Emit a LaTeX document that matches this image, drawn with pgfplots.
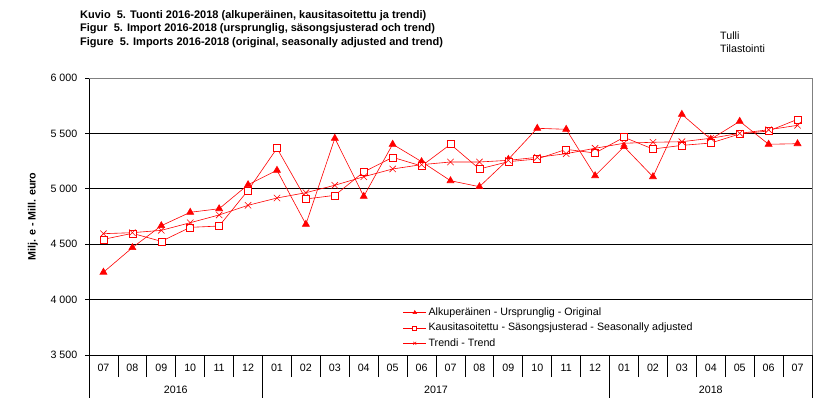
\documentclass[border=0pt]{standalone}
\usepackage{pgfplots}
\pgfplotsset{compat=1.18}
\usepackage{fontspec}
\setmainfont{Liberation Sans}

\begin{document}
\fontsize{10.67}{12.5}\selectfont
\begin{tikzpicture}[x=1pt,y=1pt]
\path[use as bounding box] (0,0) rectangle (831,416);

% titles
\node[anchor=north west, align=left, inner sep=0,
      font=\bfseries\fontsize{11}{13.5}\selectfont] at (80,406)
  {Kuvio\ \ 5. Tuonti 2016-2018 (alkuperäinen, kausitasoitettu ja trendi)\\
   Figur\ \ 5. Import 2016-2018 (ursprunglig, säsongsjusterad och trend)\\
   Figure\ \ 5. Imports 2016-2018 (original, seasonally adjusted and trend)};
\node[anchor=north west, align=left, inner sep=0,
      font=\fontsize{10.67}{13}\selectfont] at (720,384)
  {Tulli\\Tilastointi};

\begin{axis}[
    at={(89pt,61pt)}, anchor=south west,
    scale only axis, width=723pt, height=277pt,
    clip=false,
    xmin=-0.5, xmax=24.5,
    ymin=3500, ymax=6000,
    axis lines=left,
    axis line style={-, black, line width=0.8pt},
    ytick={3500,4000,4500,5000,5500,6000},
    yticklabels={3 500,4 000,4 500,5 000,5 500,6 000},
    yticklabel style={xshift=-4pt},
    ymajorgrids,
    grid style={black, line width=0.8pt},
    tick align=outside,
    major tick length=4pt,
    tick style={black, line width=0.8pt},
    xtick={0,...,24},
    xticklabels={07,08,09,10,11,12,01,02,03,04,05,06,07,08,09,10,11,12,01,02,03,04,05,06,07},
    xticklabel style={yshift=-1.5pt},
    major x tick style={draw=none},
    minor xtick={-0.5,0.5,...,24.5},
    minor tick length=22pt,
    tick label style={font=\fontsize{10.67}{12}\selectfont},
    ylabel={Milj. e - Mill. euro},
    every axis y label/.style={at={(axis description cs:-0.0775,0.5)},
        rotate=90, anchor=center, font=\bfseries\fontsize{10.67}{12}\selectfont},
    legend style={at={(0.434,0.178)}, anchor=north west, draw=none, fill=none,
        inner sep=0pt, row sep=2pt, font=\fontsize{10.67}{12}\selectfont},
    legend cell align=left,
    legend image code/.code={\draw[mark repeat=2, mark phase=2, #1, mark size=2pt]
        plot coordinates {(0pt,0pt) (11.5pt,0pt) (23pt,0pt)};},
]
\addplot[red, line width=0.6pt, mark=triangle*, mark size=4pt,
         mark options={fill=red, solid}] coordinates {
 (0,4247) (1,4469) (2,4667) (3,4788) (4,4820) (5,5037) (6,5167) (7,4680)
 (8,5456) (9,4932) (10,5402) (11,5245) (12,5073) (13,5019) (14,5266) (15,5546)
 (16,5537) (17,5118) (18,5380) (19,5109) (20,5672) (21,5447) (22,5609) (23,5402)
 (24,5407)};
\addlegendentry{Alkuperäinen - Ursprunglig - Original}
\addplot[red, line width=0.6pt, mark=square*, mark size=3.5pt,
         mark options={fill=white, solid}] coordinates {
 (0,4544) (1,4598) (2,4526) (3,4652) (4,4664) (5,4986) (6,5366) (7,4908)
 (8,4941) (9,5152) (10,5284) (11,5206) (12,5402) (13,5179) (14,5245) (15,5269)
 (16,5356) (17,5323) (18,5465) (19,5359) (20,5392) (21,5413) (22,5495) (23,5522)
 (24,5627)};
\addlegendentry{Kausitasoitettu - Säsongsjusterad - Seasonally adjusted}
\addplot[red, line width=0.6pt, mark=x, mark size=4.5pt] coordinates {
 (0,4595) (1,4604) (2,4625) (3,4694) (4,4764) (5,4851) (6,4917) (7,4965)
 (8,5032) (9,5109) (10,5179) (11,5218) (12,5242) (13,5242) (14,5257) (15,5284)
 (16,5317) (17,5366) (18,5411) (19,5420) (20,5425) (21,5456) (22,5501) (23,5533)
 (24,5573)};
\addlegendentry{Trendi - Trend}

% gray frame on top and right
\draw[gray, line width=0.8pt] (rel axis cs:0,1) -- (rel axis cs:1,1) -- (rel axis cs:1,0);
% year separators and labels
\draw[black, line width=0.8pt] (axis cs:-0.5,3500) -- ++(0pt,-43pt);
\draw[black, line width=0.8pt] (axis cs:5.5,3500) -- ++(0pt,-43pt);
\draw[black, line width=0.8pt] (axis cs:17.5,3500) -- ++(0pt,-43pt);
\draw[black, line width=0.8pt] (axis cs:24.5,3500) -- ++(0pt,-43pt);
\node at (axis cs:2.5,3500) [yshift=-35pt] {2016};
\node at (axis cs:11.5,3500) [yshift=-35pt] {2017};
\node at (axis cs:21,3500) [yshift=-35pt] {2018};
\end{axis}
\end{tikzpicture}
\end{document}
